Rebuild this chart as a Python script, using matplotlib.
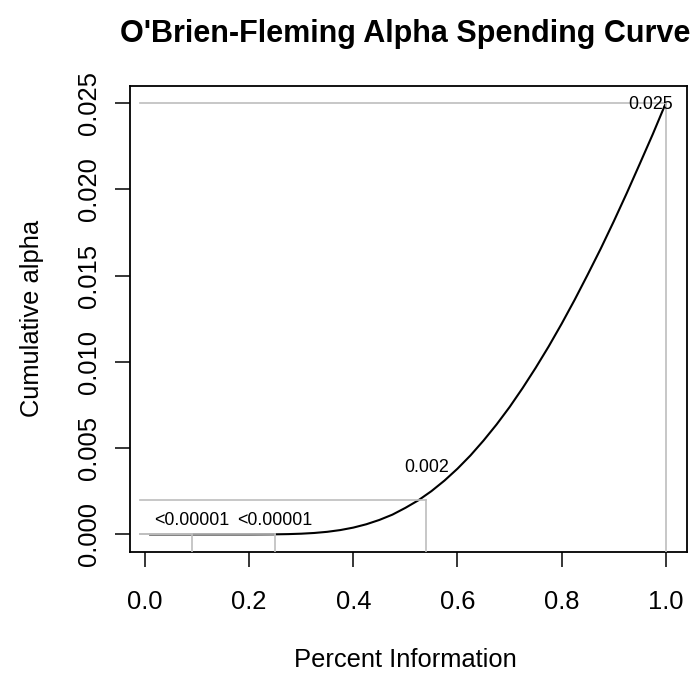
import numpy as np
import matplotlib.pyplot as plt

plt.rcParams['font.family'] = ['Liberation Sans', 'DejaVu Sans']

# spending curve
info = [0.01, 0.05, 0.10, 0.15, 0.20, 0.25, 0.275, 0.30, 0.325, 0.35, 0.375,
        0.40, 0.425, 0.45, 0.475, 0.50, 0.525, 0.55, 0.575, 0.60, 0.625,
        0.65, 0.675, 0.70, 0.725, 0.75, 0.775, 0.80, 0.825, 0.85, 0.875,
        0.90, 0.925, 0.95, 0.975, 1.00]
cum_alpha = [0.0, 0.0, 0.0, 0.0, 0.0, 0.000007, 0.000019, 0.000043, 0.000085,
             0.000152, 0.000253, 0.000396, 0.00059, 0.00084, 0.001146,
             0.00154, 0.00198, 0.00251, 0.00312, 0.00381, 0.00458, 0.00544,
             0.00637, 0.00738, 0.00848, 0.00965, 0.01089, 0.01221, 0.0136,
             0.01506, 0.01656, 0.01814, 0.01978, 0.02148, 0.0232, 0.025]

# interim looks and the labels written at them
looks = [0.09, 0.25, 0.54, 1.0]
look_alpha = [0.0, 0.0, 0.002, 0.025]
look_labels = ['<0.00001', '<0.00001', '0.002', '0.025']
label_x = [0.09, 0.25, 0.54, 0.97]
label_y = [0.0008, 0.0008, 0.0039, 0.0249]

fig = plt.figure(figsize=(6.95, 6.75), dpi=100)
ax = fig.add_axes([129.5 / 695, 1 - 551.7 / 675, 557 / 695, 466 / 675])

ax.plot(info, cum_alpha, color='black', lw=1.5, zorder=2)

for x, y in zip(looks, look_alpha):
    ax.plot([-0.01, x], [y, y], color='#BEBEBE', lw=1.2, zorder=3)
    ax.plot([x, x], [-0.01, y], color='#BEBEBE', lw=1.2, zorder=3)

for x, y, s in zip(label_x, label_y, look_labels):
    ax.text(x, y, s, ha='center', va='center', fontsize=12.9, zorder=4)

ax.set_xlim(-0.0296, 1.0396)
ax.set_ylim(-0.001, 0.026)
ax.set_xticks([0.0, 0.2, 0.4, 0.6, 0.8, 1.0])
ax.set_xticklabels(['0.0', '0.2', '0.4', '0.6', '0.8', '1.0'])
ax.set_yticks([0.0, 0.005, 0.010, 0.015, 0.020, 0.025])
ax.set_yticklabels(['0.000', '0.005', '0.010', '0.015', '0.020', '0.025'],
                   rotation=90, va='center')
ax.tick_params(axis='both', direction='out', length=10.8, width=1.1,
               labelsize=18.4)
ax.tick_params(axis='x', pad=17)
ax.tick_params(axis='y', pad=10)
for sp in ax.spines.values():
    sp.set_linewidth(1.3)

fig.text(405 / 695, 1 - 34 / 675, "O'Brien-Fleming Alpha Spending Curve",
         ha='center', va='center', fontsize=22, fontweight='bold')
fig.text(405 / 695, 1 - 660 / 675, 'Percent Information',
         ha='center', va='center', fontsize=18.4)
fig.text(32 / 695, 1 - 318 / 675, 'Cumulative alpha',
         ha='center', va='center', rotation=90, fontsize=18.4)

fig.savefig('out.png', dpi=100)
